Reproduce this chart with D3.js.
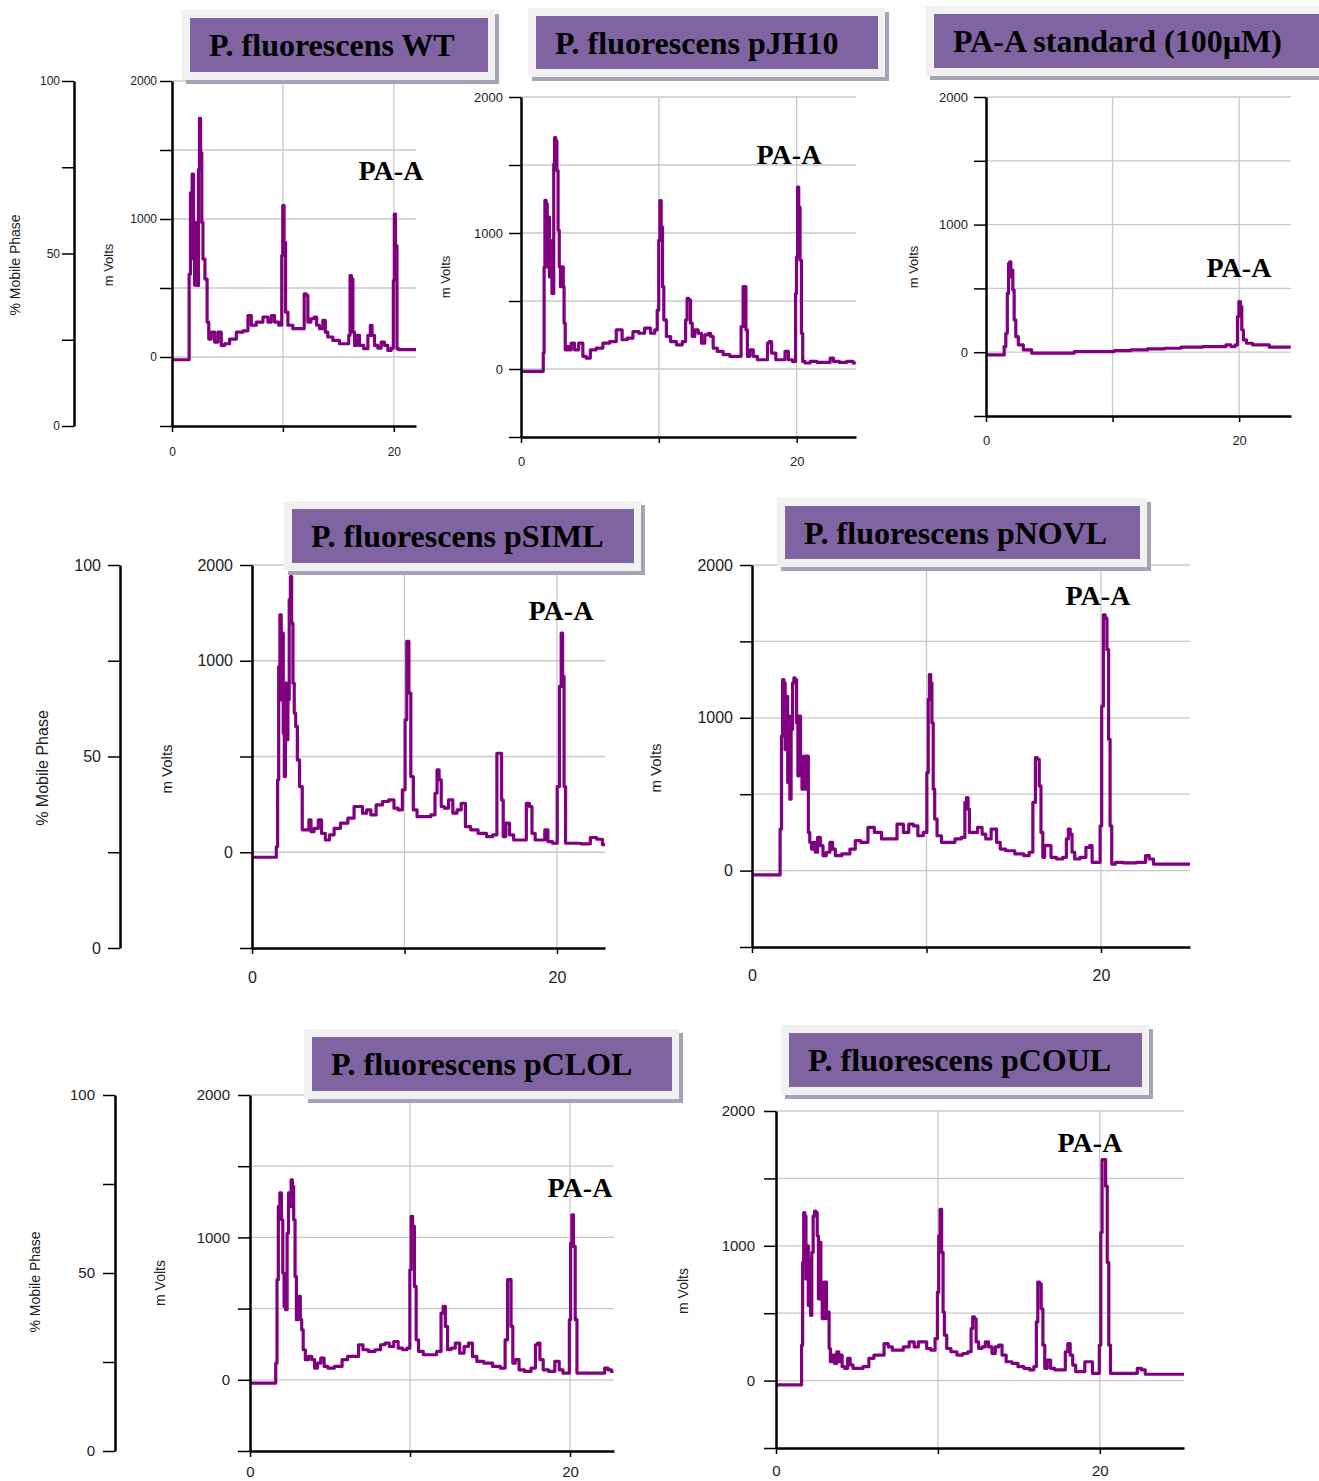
<!DOCTYPE html>
<html>
<head>
<meta charset="utf-8">
<script src="https://cdn.jsdelivr.net/npm/d3@7"></script>
<style>
body { margin: 0; background: #fff; }
svg { display: block; }
</style>
</head>
<body>
<script>
// Panel titles and the peak annotation
const titles = ["P. fluorescens WT", "P. fluorescens pJH10", "PA-A standard (100µM)",
	"P. fluorescens pSIML", "P. fluorescens pNOVL", "P. fluorescens pCLOL", "P. fluorescens pCOUL"];
const peakLabel = "PA-A";

// Tick values and their labels
const mvTickValues = [-500, 0, 500, 1000, 1500, 2000];
const mvTickLabels = ["", "0", "", "1000", "", "2000"];
const simlTickValues = [-500, 0, 500, 1000, 1500];
const simlTickLabels = ["", "0", "", "1000", "2000"];
const mobileTickValues = [0, 25, 50, 75, 100];
const mobileTickLabels = ["0", "", "50", "", "100"];
const timeTickValues = [0, 10, 20];
const timeTickLabels = ["0", "", "20"];

// Chromatograms, [minutes, mVolts]
const wtTrace = [[0,-20],[1.5,-20],[1.59,600],[1.74,1190],[1.89,1325],[1.98,710],[2.10,520],[2.19,975],[2.34,518],[2.43,1360],[2.52,1730],[2.64,1480],[2.73,975],[2.85,710],[3.09,565],[3.24,253],[3.39,130],[3.69,180],[3.99,108],[4.29,180],[4.59,84],[4.89,96],[5.50,130],[6.10,180],[6.70,190],[7.00,300],[7.30,230],[7.90,253],[8.50,290],[8.80,253],[9.10,300],[9.40,253],[9.85,230],[9.94,735],[10.03,1097],[10.18,830],[10.30,325],[10.60,230],[11.20,205],[11.80,205],[12.04,458],[12.16,446],[12.34,253],[12.70,277],[12.94,290],[13.15,230],[13.45,205],[13.75,265],[13.90,180],[14.20,145],[14.80,120],[15.41,96],[15.86,96],[16.01,157],[16.10,590],[16.25,566],[16.37,180],[16.55,84],[16.76,157],[17.06,84],[17.51,60],[17.81,157],[17.96,230],[18.11,157],[18.41,84],[18.71,65],[19.01,108],[19.31,84],[19.61,48],[19.91,65],[20.00,554],[20.09,1036],[20.21,807],[20.36,60],[20.51,53],[22.0,53]];

const jh10Trace = [[0,-17],[1.58,-17],[1.65,117],[1.70,750],[1.77,1240],[1.87,1215],[1.94,750],[2.01,1117],[2.11,678],[2.21,944],[2.28,556],[2.35,556],[2.40,1507],[2.47,1702],[2.57,1678],[2.64,1459],[2.74,1020],[2.81,751],[2.91,605],[3.03,751],[3.10,605],[3.15,337],[3.27,141],[3.39,166],[3.52,141],[3.76,190],[4.00,141],[4.36,190],[4.61,93],[4.85,80],[5.21,141],[5.70,154],[6.18,190],[6.67,202],[7.15,288],[7.52,215],[7.88,227],[8.36,275],[8.73,263],[9.21,300],[9.58,263],[9.82,288],[9.94,434],[10.04,946],[10.11,1239],[10.23,1044],[10.30,605],[10.42,361],[10.67,239],[11.03,202],[11.52,178],[11.88,202],[12.00,361],[12.10,520],[12.24,507],[12.36,337],[12.48,239],[12.73,288],[12.97,263],[13.21,190],[13.45,251],[13.70,263],[13.82,239],[14.06,154],[14.42,129],[14.91,105],[15.39,93],[15.88,93],[16.05,312],[16.17,605],[16.27,605],[16.36,288],[16.48,93],[16.73,141],[16.97,93],[17.33,68],[17.82,68],[17.94,190],[18.06,202],[18.30,117],[18.67,68],[19.03,68],[19.27,129],[19.52,68],[19.88,56],[19.95,556],[20.02,824],[20.10,1337],[20.19,1190],[20.29,800],[20.39,263],[20.48,56],[20.73,44],[21.21,56],[21.70,49],[22.30,49],[22.55,80],[22.79,56],[23.39,49],[23.88,56],[24.29,44]];

const standardTrace = [[0,-21],[1.37,-21],[1.50,44],[1.63,148],[1.74,461],[1.82,695],[1.92,708],[2.00,591],[2.08,643],[2.16,487],[2.29,253],[2.42,122],[2.69,57],[3.21,18],[4.01,-8],[6.90,-8],[7.04,5],[10.07,5],[10.20,13],[12.70,18],[12.83,26],[15.34,31],[15.47,39],[18.76,44],[19.16,57],[19.55,44],[19.82,57],[19.92,279],[20.05,396],[20.16,357],[20.26,174],[20.42,96],[20.74,70],[21.40,57],[22.32,57],[22.45,39],[24.08,39]];

const simlTrace = [[0,-26],[1.54,-26],[1.65,30],[1.71,378],[1.79,970],[1.87,1240],[1.96,796],[2.01,1144],[2.09,622],[2.15,395],[2.23,883],[2.31,587],[2.40,796],[2.48,1319],[2.56,1440],[2.64,1197],[2.73,883],[2.81,726],[2.92,657],[3.03,482],[3.20,343],[3.39,117],[3.66,117],[3.80,169],[3.94,108],[4.21,125],[4.49,169],[4.63,99],[4.99,64],[5.18,91],[5.59,125],[6.01,152],[6.56,178],[6.83,239],[7.11,239],[7.38,204],[7.66,221],[7.93,195],[8.35,247],[8.76,265],[9.17,273],[9.45,230],[9.72,221],[10.00,326],[10.08,692],[10.22,1101],[10.36,831],[10.47,395],[10.69,221],[10.96,186],[11.52,186],[11.93,195],[12.07,308],[12.20,430],[12.34,378],[12.48,239],[12.75,230],[13.03,273],[13.31,204],[13.58,221],[13.86,256],[14.13,134],[14.55,117],[15.10,99],[15.65,82],[15.92,91],[16.20,517],[16.31,517],[16.42,273],[16.53,82],[16.75,152],[17.02,91],[17.30,64],[17.85,64],[18.13,256],[18.26,239],[18.46,99],[18.68,64],[19.09,64],[19.31,117],[19.50,56],[19.92,47],[20.11,343],[20.22,866],[20.33,1144],[20.41,918],[20.52,343],[20.61,47],[21.16,47],[21.98,44],[22.40,77],[22.81,68],[23.15,40]];

const novlTrace = [[0,-28],[1.56,-28],[1.66,272],[1.72,880],[1.79,1250],[1.87,1228],[1.93,793],[2.01,1141],[2.08,576],[2.14,1011],[2.20,467],[2.28,924],[2.37,1228],[2.43,1261],[2.51,1250],[2.60,967],[2.66,620],[2.74,1011],[2.82,750],[2.91,533],[2.97,728],[3.05,750],[3.12,533],[3.20,750],[3.26,250],[3.36,185],[3.47,141],[3.57,185],[3.68,120],[3.84,217],[3.99,163],[4.15,98],[4.36,120],[4.57,185],[4.67,141],[4.88,98],[5.40,109],[5.82,141],[6.02,196],[6.44,185],[6.85,283],[7.17,250],[7.68,207],[8.10,207],[8.52,304],[8.83,250],[9.14,304],[9.35,293],[9.66,228],[9.97,250],[10.07,641],[10.13,1120],[10.20,1283],[10.28,1228],[10.34,967],[10.43,533],[10.51,337],[10.70,228],[11.01,185],[11.42,185],[11.84,207],[12.15,217],[12.25,446],[12.34,478],[12.42,402],[12.50,250],[12.77,250],[13.08,283],[13.29,239],[13.50,207],[13.91,272],[14.12,185],[14.33,141],[14.75,130],[15.37,109],[15.78,98],[15.99,120],[16.20,446],[16.28,739],[16.41,728],[16.51,554],[16.61,250],[16.72,87],[16.82,163],[17.03,163],[17.24,87],[17.65,76],[17.96,87],[18.07,207],[18.19,272],[18.28,239],[18.40,120],[18.59,76],[19.00,87],[19.27,152],[19.42,163],[19.56,54],[19.90,54],[20.00,293],[20.08,1076],[20.19,1674],[20.29,1652],[20.39,1446],[20.48,859],[20.56,293],[20.67,43],[20.98,54],[21.60,50],[22.43,54],[22.68,98],[22.85,76],[23.16,43],[25.1,43]];

const clolTrace = [[0,-23],[1.57,-23],[1.65,117],[1.73,703],[1.81,1218],[1.92,1312],[2.01,1124],[2.09,750],[2.17,515],[2.28,492],[2.36,1030],[2.45,1312],[2.53,1218],[2.61,1405],[2.69,1358],[2.77,1124],[2.86,726],[2.94,422],[3.02,586],[3.10,586],[3.19,422],[3.27,351],[3.38,211],[3.54,141],[3.76,164],[3.96,141],[4.12,82],[4.31,117],[4.53,152],[4.73,94],[5.00,82],[5.55,94],[5.96,141],[6.24,164],[6.65,164],[6.92,246],[7.20,211],[7.61,199],[8.02,211],[8.30,246],[8.57,258],[8.85,234],[9.12,269],[9.40,222],[9.67,211],[9.95,222],[10.03,773],[10.11,1148],[10.22,1077],[10.33,656],[10.44,281],[10.63,199],[11.04,176],[11.46,176],[11.87,199],[12.01,468],[12.14,515],[12.28,375],[12.42,211],[12.69,222],[12.97,258],[13.24,187],[13.52,234],[13.79,258],[14.01,164],[14.34,129],[14.89,117],[15.44,94],[15.85,82],[16.04,281],[16.15,703],[16.26,703],[16.37,375],[16.48,117],[16.68,141],[16.95,70],[17.36,59],[17.77,82],[17.91,246],[18.05,258],[18.19,141],[18.46,70],[18.87,59],[19.23,129],[19.42,70],[19.70,47],[19.92,47],[20.00,422],[20.08,960],[20.16,1159],[20.27,937],[20.38,422],[20.49,47],[20.93,47],[22.03,47],[22.31,82],[22.45,70],[22.72,59]];

const coulTrace = [[0,-32],[1.55,-32],[1.61,263],[1.68,877],[1.74,1246],[1.82,1221],[1.88,754],[1.96,1000],[2.03,558],[2.11,902],[2.17,484],[2.25,951],[2.34,1221],[2.42,1258],[2.50,1246],[2.59,1074],[2.65,607],[2.73,1025],[2.81,705],[2.90,459],[2.98,730],[3.08,730],[3.16,459],[3.25,509],[3.31,238],[3.41,140],[3.56,189],[3.68,128],[3.83,214],[3.93,140],[4.03,189],[4.14,103],[4.34,91],[4.51,165],[4.65,116],[4.86,91],[5.17,91],[5.58,103],[5.89,165],[6.20,189],[6.52,189],[6.83,275],[7.03,250],[7.34,226],[7.65,226],[8.07,250],[8.38,287],[8.69,250],[8.89,287],[9.20,287],[9.41,238],[9.72,226],[9.93,312],[10.01,656],[10.09,1074],[10.18,1270],[10.28,951],[10.36,509],[10.44,337],[10.65,238],[10.96,214],[11.38,189],[11.69,201],[12.00,214],[12.10,386],[12.20,472],[12.31,459],[12.41,287],[12.62,238],[12.82,250],[13.03,287],[13.24,250],[13.44,201],[13.65,250],[13.86,263],[14.06,189],[14.37,140],[14.79,128],[15.10,103],[15.51,91],[15.82,79],[16.03,103],[16.13,435],[16.21,730],[16.34,718],[16.42,533],[16.55,263],[16.65,91],[16.86,152],[17.06,91],[17.37,79],[17.79,79],[17.95,214],[18.10,275],[18.24,189],[18.41,115],[18.61,66],[18.92,66],[19.23,140],[19.44,140],[19.65,54],[19.92,54],[20.02,263],[20.10,1098],[20.18,1639],[20.31,1639],[20.41,1442],[20.51,877],[20.60,263],[20.72,54],[21.10,54],[22.13,54],[22.50,91],[22.65,79],[22.96,47],[25.2,47]];

// Layout of each panel (pixel positions only)
let panels = [
	{ title: titles[0], trace: wtTrace, ticks: mvTickValues, labels: mvTickLabels,
	  x0: 172, x1: 416, xMax: 22, yTop: 81, yBot: 426, font: 12, xGap: 26, yGap: 15,
	  volts: [108, 265, 13], box: [190, 18, 298, 54], peak: [391, 180],
	  mobile: { x: 74, gap: 14, font: 12, label: [15, 265, 14] } },
	{ title: titles[1], trace: jh10Trace, ticks: mvTickValues, labels: mvTickLabels,
	  x0: 521, x1: 856, xMax: 24.3, yTop: 97, yBot: 437, font: 13, xGap: 24, yGap: 18,
	  volts: [445, 277, 13], box: [536, 16, 342, 53], peak: [789, 164] },
	{ title: titles[2], trace: standardTrace, ticks: mvTickValues, labels: mvTickLabels,
	  x0: 986, x1: 1291, xMax: 24.1, yTop: 97, yBot: 416, font: 13, xGap: 24, yGap: 18,
	  volts: [913, 267, 13], box: [934, 14, 392, 54], peak: [1239, 277] },
	{ title: titles[3], trace: simlTrace, ticks: simlTickValues, labels: simlTickLabels,
	  x0: 252, x1: 605, xMax: 23.15, yTop: 565, yBot: 948, font: 16, xGap: 29, yGap: 19,
	  volts: [166, 769, 15], box: [292, 509, 342, 54], peak: [561, 620],
	  mobile: { x: 120, gap: 19, font: 16, label: [42, 768, 16] } },
	{ title: titles[4], trace: novlTrace, ticks: mvTickValues, labels: mvTickLabels,
	  x0: 752, x1: 1190, xMax: 25.1, yTop: 565, yBot: 947, font: 16, xGap: 28, yGap: 19,
	  volts: [655, 768, 15], box: [785, 506, 355, 53], peak: [1098, 605] },
	{ title: titles[5], trace: clolTrace, ticks: mvTickValues, labels: mvTickLabels,
	  x0: 250, x1: 614, xMax: 22.75, yTop: 1095, yBot: 1451, font: 15, xGap: 21, yGap: 20,
	  volts: [160, 1283, 14], box: [312, 1037, 360, 54], peak: [580, 1197],
	  mobile: { x: 115, gap: 20, font: 15, label: [35, 1282, 14] } },
	{ title: titles[6], trace: coulTrace, ticks: mvTickValues, labels: mvTickLabels,
	  x0: 776, x1: 1184, xMax: 25.2, yTop: 1111, yBot: 1448, font: 15, xGap: 23, yGap: 21,
	  volts: [683, 1291, 14], box: [789, 1033, 353, 54], peak: [1090, 1152] }
];

const sansFont = "'Liberation Sans', Arial, sans-serif";
const serifFont = "'Liberation Serif', 'Times New Roman', serif";

let svg = d3.select("body")
			.append("svg")
			.attr("width", 1319)
			.attr("height", 1481);

// Give an axis the black look of the chromatography software
function styleAxis(a, font) {
	a.select(".domain").attr("stroke", "#000").attr("stroke-width", 2.5);
	a.selectAll(".tick line").attr("stroke", "#000").attr("stroke-width", 1.5);
	a.selectAll("text")
	 .attr("fill", "#222")
	 .style("font-family", sansFont)
	 .style("font-size", font + "px");
}

function rotatedLabel(g, pos, text) {
	g.append("text")
	 .attr("transform", "translate(" + pos[0] + "," + pos[1] + ") rotate(-90)")
	 .attr("text-anchor", "middle")
	 .attr("dominant-baseline", "central")
	 .style("font-family", sansFont)
	 .style("font-size", pos[2] + "px")
	 .attr("fill", "#222")
	 .text(text);
}

for (let i = 0; i < panels.length; ++i) {
	let p = panels[i];
	let g = svg.append("g");

	let x = d3.scaleLinear().domain([0, p.xMax]).range([p.x0, p.x1]);
	let y = d3.scaleLinear()
			  .domain([p.ticks[0], p.ticks[p.ticks.length - 1]])
			  .range([p.yBot, p.yTop]);

	// Grid lines
	g.selectAll("line.hgrid")
	 .data(p.ticks.slice(1))
	 .enter()
	 .append("line")
	 .attr("class", "hgrid")
	 .attr("x1", p.x0).attr("x2", p.x1)
	 .attr("y1", d => y(d)).attr("y2", d => y(d))
	 .attr("stroke", "#c8c8c8").attr("stroke-width", 1.3);

	g.selectAll("line.vgrid")
	 .data(timeTickValues.slice(1))
	 .enter()
	 .append("line")
	 .attr("class", "vgrid")
	 .attr("x1", d => x(d)).attr("x2", d => x(d))
	 .attr("y1", p.yTop).attr("y2", p.yBot)
	 .attr("stroke", "#c8c8c8").attr("stroke-width", 1.3);

	// Chromatogram trace, drawn in steps like the detector output
	g.append("path")
	 .datum(p.trace)
	 .attr("d", d3.line().curve(d3.curveStep).x(d => x(d[0])).y(d => y(d[1])))
	 .attr("fill", "none")
	 .attr("stroke", "#800080")
	 .attr("stroke-width", 3.2)
	 .attr("stroke-linejoin", "round");

	// mVolts axis
	let yAxis = g.append("g")
				 .attr("transform", "translate(" + p.x0 + ",0)")
				 .call(d3.axisLeft(y)
						 .tickValues(p.ticks)
						 .tickFormat((d, k) => p.labels[k])
						 .tickSizeInner(12).tickSizeOuter(0)
						 .tickPadding(p.yGap - 12));
	styleAxis(yAxis, p.font);

	// Time axis
	let xAxis = g.append("g")
				 .attr("transform", "translate(0," + p.yBot + ")")
				 .call(d3.axisBottom(x)
						 .tickValues(timeTickValues)
						 .tickFormat((d, k) => timeTickLabels[k])
						 .tickSizeInner(6).tickSizeOuter(0)
						 .tickPadding(p.xGap - 6 - 0.36 * p.font));
	styleAxis(xAxis, p.font);

	rotatedLabel(g, p.volts, "m Volts");

	// % Mobile Phase axis on the left of a row
	if (p.mobile) {
		let m = d3.scaleLinear().domain([0, 100]).range([p.yBot, p.yTop]);
		let mAxis = g.append("g")
					 .attr("transform", "translate(" + p.mobile.x + ",0)")
					 .call(d3.axisLeft(m)
							 .tickValues(mobileTickValues)
							 .tickFormat((d, k) => mobileTickLabels[k])
							 .tickSizeInner(12).tickSizeOuter(0)
							 .tickPadding(p.mobile.gap - 12));
		styleAxis(mAxis, p.mobile.font);
		rotatedLabel(g, p.mobile.label, "% Mobile Phase");
	}

	// Peak annotation
	g.append("text")
	 .attr("x", p.peak[0]).attr("y", p.peak[1])
	 .attr("text-anchor", "middle")
	 .style("font-family", serifFont)
	 .style("font-weight", "bold")
	 .style("font-size", "28px")
	 .text(peakLabel);

	// Title box: shadow, light frame, purple fill
	let b = p.box;
	g.append("rect")
	 .attr("x", b[0] - 4).attr("y", b[1] - 4)
	 .attr("width", b[2] + 15).attr("height", b[3] + 16)
	 .attr("fill", "#a7a2b6");
	g.append("rect")
	 .attr("x", b[0] - 8).attr("y", b[1] - 8)
	 .attr("width", b[2] + 15).attr("height", b[3] + 16)
	 .attr("fill", "#f1f1f1");
	g.append("rect")
	 .attr("x", b[0]).attr("y", b[1])
	 .attr("width", b[2]).attr("height", b[3])
	 .attr("fill", "#8064a2");
	g.append("text")
	 .attr("x", b[0] + 19).attr("y", b[1] + 38)
	 .style("font-family", serifFont)
	 .style("font-weight", "bold")
	 .style("font-size", "32px")
	 .attr("fill", "#000")
	 .text(p.title);
}
</script>
</body>
</html>
